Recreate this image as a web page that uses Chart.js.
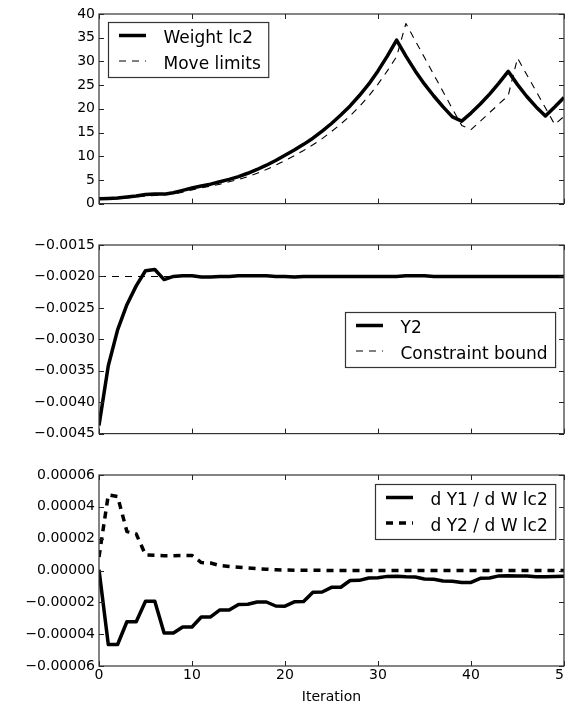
<!DOCTYPE html>
<html lang="en">
<head>
<meta charset="UTF-8">
<title>Weight lc2 history</title>
<style>
    html, body { margin: 0; padding: 0; background: #fff; }
    body { width: 565px; height: 706px; overflow: hidden; position: relative; }
    canvas { position: absolute; left: 0; }
    #c1 { top: 0; }
    #c2 { top: 230px; }
    #c3 { top: 460px; }
</style>
</head>
<body>
<canvas id="c1" width="600" height="216"></canvas>
<canvas id="c2" width="600" height="216"></canvas>
<canvas id="c3" width="600" height="246"></canvas>

<script src="https://cdn.jsdelivr.net/npm/chart.js"></script>
<script>
    // x values (optimizer iterations)
    const iterations = [0, 1, 2, 3, 4, 5, 6, 7, 8, 9, 10, 11, 12, 13, 14, 15, 16, 17, 18, 19, 20,
        21, 22, 23, 24, 25, 26, 27, 28, 29, 30, 31, 32, 33, 34, 35, 36, 37, 38, 39, 40,
        41, 42, 43, 44, 45, 46, 47, 48, 49, 50];
    const iterTicks = [0, 10, 20, 30, 40, 50];

    // top panel
    const weightLc2 = [1.0, 1.1, 1.2, 1.4, 1.6, 1.9, 2.0, 2.0, 2.3, 2.8,
        3.3, 3.7, 4.1, 4.6, 5.1, 5.7, 6.4, 7.2, 8.1, 9.1,
        10.2, 11.3, 12.5, 13.8, 15.3, 16.9, 18.7, 20.6, 22.8, 25.2,
        28.0, 31.1, 34.5, 31.1, 28.0, 25.2, 22.7, 20.4, 18.3, 17.4,
        19.1, 21.0, 23.1, 25.4, 27.9, 25.1, 22.6, 20.4, 18.5, 20.4,
        22.4];
    const moveLimits = [0.9, 0.95, 1.05, 1.2, 1.4, 1.6, 1.7, 1.8, 2.0, 2.4,
        2.9, 3.3, 3.7, 4.1, 4.6, 5.1, 5.7, 6.4, 7.2, 8.1,
        9.1, 10.1, 11.2, 12.4, 13.7, 15.2, 16.8, 18.5, 20.5, 22.7,
        25.2, 28.0, 31.0, 38.0, 34.4, 30.8, 27.2, 23.6, 20.0, 16.5,
        15.6, 17.4, 19.2, 21.0, 22.8, 30.7, 27.2, 23.7, 20.2, 16.7,
        18.4];
    const weightTicks = [0, 5, 10, 15, 20, 25, 30, 35, 40];

    // middle panel
    const y2Values = [-0.00437, -0.00342, -0.00285, -0.00245, -0.00215, -0.00191, -0.00189, -0.00205, -0.00200, -0.00199,
        -0.00199, -0.00201, -0.00201, -0.00200, -0.00200, -0.00199, -0.00199, -0.00199, -0.00199, -0.00200,
        -0.00200, -0.00201, -0.00200, -0.00200, -0.00200, -0.00200, -0.00200, -0.00200, -0.00200, -0.00200,
        -0.00200, -0.00200, -0.00200, -0.00199, -0.00199, -0.00199, -0.00200, -0.00200, -0.00200, -0.00200,
        -0.00200, -0.00200, -0.00200, -0.00200, -0.00200, -0.00200, -0.00200, -0.00200, -0.00200, -0.00200,
        -0.00200];
    const boundIterations = [0, 50];
    const constraintBound = [-0.002, -0.002];
    const y2Ticks = [-0.0045, -0.0040, -0.0035, -0.0030, -0.0025, -0.0020, -0.0015];

    // bottom panel
    const dY1dW = [0.5e-6, -46.5e-6, -46.5e-6, -32.2e-6, -32.2e-6, -19.3e-6, -19.3e-6, -39.3e-6, -39.3e-6, -35.5e-6,
        -35.5e-6, -29.2e-6, -29.2e-6, -24.8e-6, -24.8e-6, -21.3e-6, -21.2e-6, -19.8e-6, -19.8e-6, -22.3e-6,
        -22.4e-6, -19.7e-6, -19.5e-6, -13.6e-6, -13.5e-6, -10.6e-6, -10.5e-6, -6.3e-6, -6.2e-6, -4.7e-6,
        -4.5e-6, -3.7e-6, -3.6e-6, -4.0e-6, -4.1e-6, -5.3e-6, -5.5e-6, -6.6e-6, -6.8e-6, -7.5e-6,
        -7.5e-6, -4.9e-6, -4.7e-6, -3.4e-6, -3.3e-6, -3.4e-6, -3.5e-6, -3.9e-6, -3.9e-6, -3.7e-6,
        -3.6e-6];
    const dY2dW = [8.5e-6, 47.5e-6, 46.5e-6, 24.5e-6, 23.0e-6, 9.8e-6, 9.5e-6, 9.3e-6, 9.3e-6, 9.5e-6,
        9.5e-6, 5.0e-6, 4.7e-6, 3.1e-6, 2.5e-6, 2.0e-6, 1.6e-6, 1.2e-6, 0.8e-6, 0.5e-6,
        0.3e-6, 0.2e-6, 0.1e-6, 0.1e-6, 0.1e-6, 0, 0, 0, 0, 0,
        0, 0, 0, 0, 0, 0, 0, 0, 0, 0,
        0, 0, 0, 0, 0, 0, 0, 0, 0, 0,
        0];
    const gradTicks = [-0.00006, -0.00004, -0.00002, 0, 0.00002, 0.00004, 0.00006];

    Chart.defaults.font.family = "'DejaVu Sans', sans-serif";
    Chart.defaults.font.size = 14;
    Chart.defaults.color = '#000';

    const pts = (xs, ys) => ys.map((v, i) => ({ x: xs[i], y: v }));
    const minus = s => s.replace('-', '\u2212');

    // matplotlib-ish frame with inward ticks on all four sides
    const frameTicks = {
        id: 'frameTicks',
        afterDatasetsDraw(chart) {
            const { ctx, chartArea: a, scales: { x, y } } = chart;
            ctx.save();
            ctx.strokeStyle = '#222';
            ctx.lineWidth = 1;
            ctx.beginPath();
            x.ticks.forEach(t => {
                const px = Math.round(x.getPixelForValue(t.value)) + 0.5;
                ctx.moveTo(px, a.bottom); ctx.lineTo(px, a.bottom - 5);
                ctx.moveTo(px, a.top); ctx.lineTo(px, a.top + 5);
            });
            y.ticks.forEach(t => {
                const py = Math.round(y.getPixelForValue(t.value)) + 0.5;
                ctx.moveTo(a.left, py); ctx.lineTo(a.left + 5, py);
                ctx.moveTo(a.right, py); ctx.lineTo(a.right - 5, py);
            });
            ctx.stroke();
            ctx.strokeStyle = '#333';
            ctx.lineWidth = 1.2;
            ctx.strokeRect(a.left, a.top, a.right - a.left, a.bottom - a.top);
            ctx.restore();
        }
    };

    // boxed legend drawn inside the plot area
    const boxLegend = {
        id: 'boxLegend',
        afterDraw(chart, args, opts) {
            const { ctx, chartArea: a } = chart;
            const ds = chart.data.datasets;
            ctx.save();
            ctx.font = "17px 'DejaVu Sans'";
            const textW = Math.max(...ds.map(d => ctx.measureText(d.label).width));
            const w = 55 + textW + 8;
            const h = 55;
            let left, top;
            if (opts.loc === 'upper left') {
                left = a.left + 9; top = a.top + 8;
            } else if (opts.loc === 'upper right') {
                left = a.right - 8.5 - w; top = a.top + 8.5;
            } else {
                left = a.right - 8.5 - w; top = (a.top + a.bottom) / 2 - h / 2;
            }
            left = Math.round(left) + 0.5;
            top = Math.round(top) + 0.5;
            ctx.fillStyle = '#fff';
            ctx.fillRect(left, top, w, h);
            ctx.strokeStyle = '#333';
            ctx.lineWidth = 1.2;
            ctx.strokeRect(left, top, w, h);
            ds.forEach((d, i) => {
                const cy = top + 13 + i * 25.5;
                ctx.beginPath();
                ctx.setLineDash(d.borderDash || []);
                ctx.lineWidth = d.borderWidth;
                ctx.strokeStyle = d.borderColor;
                ctx.moveTo(left + 10.5, cy);
                ctx.lineTo(left + 37.5, cy);
                ctx.stroke();
                ctx.setLineDash([]);
                ctx.fillStyle = '#000';
                ctx.textBaseline = 'alphabetic';
                ctx.fillText(d.label, left + 55, cy + 7.5);
            });
            ctx.restore();
        }
    };

    function makeChart(id, datasets, yTicks, fmt, loc, padTop, xHeight, showX) {
        return new Chart(document.getElementById(id), {
            type: 'line',
            data: { datasets },
            options: {
                responsive: false,
                animation: false,
                layout: { padding: { left: 0, right: 36, top: padTop, bottom: 0 } },
                elements: {
                    point: { radius: 0 },
                    line: { tension: 0, borderJoinStyle: 'round', borderCapStyle: 'butt' }
                },
                plugins: {
                    legend: { display: false },
                    tooltip: { enabled: false },
                    boxLegend: { loc }
                },
                scales: {
                    x: {
                        type: 'linear',
                        min: 0,
                        max: 50,
                        afterBuildTicks: s => { s.ticks = iterTicks.map(v => ({ value: v })); },
                        afterFit: s => { s.height = xHeight; },
                        grid: { display: false, drawTicks: false },
                        border: { display: false },
                        ticks: { display: showX, padding: 1, maxRotation: 0, autoSkip: false },
                        title: {
                            display: showX,
                            text: 'Iteration',
                            font: { size: 14 },
                            padding: { top: 0, bottom: 0 }
                        }
                    },
                    y: {
                        min: yTicks[0],
                        max: yTicks[yTicks.length - 1],
                        afterBuildTicks: s => { s.ticks = yTicks.map(v => ({ value: v })); },
                        afterFit: s => { s.width = 99; },
                        grid: { display: false, drawTicks: false },
                        border: { display: false },
                        ticks: { padding: 4, callback: v => fmt(v) }
                    }
                }
            },
            plugins: [frameTicks, boxLegend]
        });
    }

    makeChart('c1', [
        {
            label: 'Weight lc2',
            data: pts(iterations, weightLc2),
            borderColor: '#000',
            borderWidth: 3.5,
            clip: 0
        },
        {
            label: 'Move limits',
            data: pts(iterations, moveLimits),
            borderColor: '#000',
            borderWidth: 1.1,
            borderDash: [7, 6],
            clip: 0
        }
    ], weightTicks, v => String(v), 'upper left', 14, 10, false);

    makeChart('c2', [
        {
            label: 'Y2',
            data: pts(iterations, y2Values),
            borderColor: '#000',
            borderWidth: 3.5,
            clip: 0
        },
        {
            label: 'Constraint bound',
            data: pts(boundIterations, constraintBound),
            borderColor: '#000',
            borderWidth: 1.1,
            borderDash: [7, 6],
            clip: 0
        }
    ], y2Ticks, v => minus(v.toFixed(4)), 'center right', 15, 10, false);

    makeChart('c3', [
        {
            label: 'd Y1 / d W lc2',
            data: pts(iterations, dY1dW),
            borderColor: '#000',
            borderWidth: 3.5,
            clip: 0
        },
        {
            label: 'd Y2 / d W lc2',
            data: pts(iterations, dY2dW),
            borderColor: '#000',
            borderWidth: 3.5,
            borderDash: [7, 6],
            clip: 0
        }
    ], gradTicks, v => Math.abs(v) < 1e-12 ? '0.00000' : minus(v.toFixed(5)), 'upper right', 15, 40, true);
</script>
</body>
</html>
